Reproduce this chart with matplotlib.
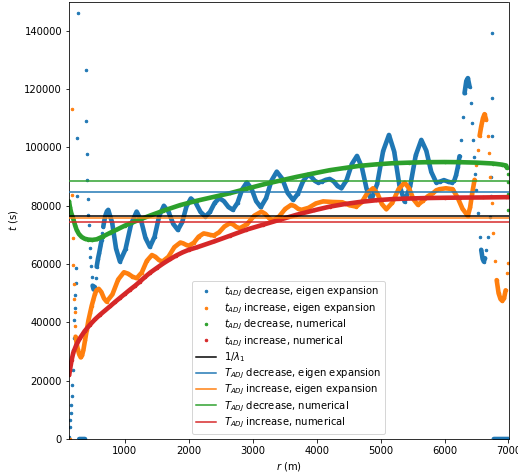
import numpy as np
import matplotlib
matplotlib.use("Agg")
import matplotlib.pyplot as plt

# ---- adjustment time t_ADJ(r) for each case ----
blue_r = [130, 137, 145, 152, 160, 167, 175, 182, 190, 197, 205, 212, 220, 227, 235, 250, 257, 265,
          285, 300, 315, 330, 345, 360, 375,
          390, 398, 406, 414, 422, 430, 438, 446, 454, 462, 478, 494, 510, 526, 542, 558, 578, 598, 617,
          636, 648, 661, 680, 698, 718, 739,
          800, 861, 922, 1009, 1096, 1183, 1252, 1322, 1391, 1464, 1536, 1609, 1682, 1755, 1828, 1896,
          1963, 2031, 2107, 2182, 2258, 2331, 2404, 2477, 2547, 2618, 2688, 2761, 2833, 2906, 2979, 3052,
          3125, 3208, 3292, 3375, 3460, 3545, 3630, 3708, 3786, 3864,
          3916, 3968, 4020, 4081, 4142, 4203, 4264, 4325, 4386, 4467, 4549, 4630, 4705, 4780, 4855, 4947,
          5038, 5130, 5212, 5293, 5375, 5462, 5549, 5636, 5714, 5792, 5870, 5930, 5990, 6050, 6109,
          6150, 6180, 6208, 6234, 6261, 6286, 6312, 6340, 6364, 6391, 6417, 6433, 6443, 6453, 6474, 6495,
          6520, 6547, 6573, 6595, 6614, 6633, 6651, 6677, 6703, 6719, 6730, 6735, 6740, 6745,
          6770, 6800, 6830, 6860, 6890, 6920, 6950, 6980, 7000]
blue_t = [800, 4200, 6500, 8800, 11700, 14800, 18500, 23700, 30500, 34600, 40800, 44900, 49400, 53400,
          58600, 83200, 103400, 146000,
          0, 0, 0, 0, 0, 0, 0,
          126700, 109000, 97700, 88900, 82250, 76900, 73400, 65500, 62600, 59400, 55600, 52600, 51300,
          52200, 55200, 59100, 61800, 63900, 66100, 68300, 70600, 72800, 75200, 76900, 78100, 78600,
          74200, 65300, 60850, 65100, 73700, 78000, 75000, 68900, 65900, 69400, 76500, 80000, 77900,
          73800, 71700, 74400, 79800, 82500, 81000, 77900, 76300, 77900, 81000, 82600, 81600, 79600,
          78600, 81000, 85600, 88000, 85900, 81600, 79500, 82600, 88600, 91700, 89300, 84400, 82000,
          84200, 88400, 90600,
          89900, 88600, 87950, 88300, 88900, 89200, 88400, 86800, 86000, 88800, 94300, 97100, 93300,
          85800, 82000, 87600, 98700, 104300, 98600, 87100, 81400, 86700, 97300, 102600, 98900, 91600,
          87950, 88300, 88800, 88300, 87950,
          88500, 90500, 93400, 97000, 102600, 110600, 118600, 122800, 123800, 120900, 115200, 108300,
          102600, 96900, 91000, 85400, 77400, 69400, 64900, 61800, 60850, 62000, 64900, 69400, 76300,
          83200, 90000, 104000, 116900, 139400,
          0, 0, 0, 0, 0, 0, 0, 0, 0]

orange_r = [140, 165, 173, 180, 188, 196, 204, 212, 220, 228, 245, 262, 285, 308, 330, 350, 375, 402,
            428, 453, 480, 505, 530, 555, 590, 631, 673, 714, 804, 894, 984, 1050, 1117, 1183, 1263,
            1342, 1422, 1477, 1531, 1586, 1680, 1773, 1867, 1911, 1956, 2000, 2077, 2153, 2230, 2283,
            2337, 2390, 2473, 2557, 2640, 2692, 2745, 2797, 2910, 3023, 3136, 3196, 3257, 3317, 3411,
            3506, 3600, 3653, 3707, 3760, 3873, 3987, 4100, 4250, 4400, 4510, 4620, 4707, 4793, 4880,
            4950, 5019, 5089, 5184, 5280, 5375, 5444, 5514, 5583, 5660, 5740, 5817, 5870, 5922, 6020,
            6125, 6200, 6280, 6364, 6400, 6430, 6469, 6495, 6520, 6548, 6573, 6600, 6625, 6650, 6677,
            6690, 6703, 6735, 6765, 6790, 6815, 6845, 6875, 6902, 6930, 6955, 6980, 6998]
orange_t = [0, 113250, 83600, 68900, 59600, 53000, 48000, 43700, 38600, 35100, 32800, 30800, 29000,
            28000, 28700, 30500, 33800, 37400, 40600, 43100, 45700, 47700, 49700, 51000, 51500, 50400,
            48200, 47100, 49600, 54700, 57200, 56700, 55700, 55150, 57100, 61100, 63100, 62500, 61400,
            60850, 62500, 65800, 67400, 67100, 66600, 66300, 67300, 69400, 70500, 70300, 70000, 69800,
            70900, 72900, 74000, 73600, 72700, 72300, 73700, 76600, 78000, 77200, 75700, 74900, 76300,
            78900, 80300, 79900, 79000, 78600, 79300, 80800, 81500, 81300, 81200, 80200, 79700, 81300,
            84400, 86000, 84200, 80600, 78800, 81100, 85700, 87950, 86000, 82200, 80300, 81700, 83300,
            84300, 85300, 85700, 86000, 85700, 83000, 79000, 76500, 79500, 84000, 88900, 94000, 99200,
            104000, 107200, 110000, 111430, 109500, 104000, 98000, 90000, 81000, 70500, 61000, 54500,
            50000, 48000, 47400, 48200, 51000, 57000, 60500]

green_r = [125, 140, 160, 192, 220, 245, 280, 323, 370, 427, 490, 557, 650, 766, 880, 1000, 1200, 1400,
           1600, 1860, 2120, 2400, 2640, 2900, 3161, 3420, 3683, 3950, 4203, 4450, 4672, 4930, 5188,
           5450, 5714, 6000, 6234, 6500, 6755, 6900, 6964, 6975, 6985, 6990, 6995, 7000]
green_t = [81500, 79500, 77500, 75500, 73300, 71700, 70300, 69300, 68700, 68400, 68300, 68500, 69400,
           70700, 71900, 73200, 75000, 76700, 78300, 80200, 81700, 83100, 84300, 85800, 87300, 88600,
           89900, 91100, 92200, 93000, 93700, 94200, 94600, 94800, 94950, 95000, 94950, 94800, 94500,
           94100, 93800, 93000, 91000, 88000, 84000, 78600]

red_r = [128, 141, 165, 192, 240, 297, 370, 453, 530, 609, 690, 766, 845, 922, 1000, 1078, 1160, 1234,
         1310, 1391, 1500, 1598, 1700, 1800, 1900, 2000, 2120, 2400, 2640, 2900, 3161, 3420, 3683,
         3950, 4203, 4440, 4672, 4930, 5193, 5450, 5714, 6000, 6234, 6600, 6964, 7000]
red_t = [22000, 23800, 27000, 29600, 32300, 34600, 37000, 39200, 41000, 42600, 44100, 45500, 47000,
         48400, 49800, 51200, 52600, 54000, 55500, 57000, 58700, 60200, 61600, 62900, 64000, 64900,
         65700, 67800, 69700, 71800, 73500, 75200, 76900, 78400, 79700, 80600, 81300, 81900, 82300,
         82500, 82650, 82750, 82800, 82850, 82950, 82950]

# ---- constant reference times ----
inv_lambda1 = 76600
T_dec_eigen = 84750
T_inc_eigen = 75650
T_dec_num = 88500
T_inc_num = 74400

point_labels = [r"$t_{ADJ}$ decrease, eigen expansion",
                r"$t_{ADJ}$ increase, eigen expansion",
                r"$t_{ADJ}$ decrease, numerical",
                r"$t_{ADJ}$ increase, numerical"]
line_labels = [r"$1/\lambda_1$",
               r"$T_{ADJ}$ decrease, eigen expansion",
               r"$T_{ADJ}$ increase, eigen expansion",
               r"$T_{ADJ}$ decrease, numerical",
               r"$T_{ADJ}$ increase, numerical"]


def dense_path(r, t, max_slope=150.0):
    """Join consecutive samples only where the curve is shallow enough
    for the sample dots to merge into a continuous band."""
    xs, ys = [r[0]], [t[0]]
    for i in range(1, len(r)):
        dr = max(r[i] - r[i - 1], 1e-9)
        if abs(t[i] - t[i - 1]) / dr > max_slope:
            xs.append(np.nan)
            ys.append(np.nan)
        xs.append(r[i])
        ys.append(t[i])
    return np.array(xs, float), np.array(ys, float)


fig = plt.figure(figsize=(518 / 72, 475 / 72), dpi=72)
ax = fig.add_axes([69 / 518, 1 - 439 / 475, (508.5 - 69) / 518, (439 - 1.7) / 475])

series = [(blue_r, blue_t, "C0"), (orange_r, orange_t, "C1"),
          (green_r, green_t, "C2"), (red_r, red_t, "C3")]
for (r, t, c), lab in zip(series, point_labels):
    ax.plot(r, t, ".", color=c, ms=5, label=lab, zorder=2)
    xs, ys = dense_path(r, t)
    ax.plot(xs, ys, "-", color=c, lw=4.6, solid_capstyle="round",
            solid_joinstyle="round", zorder=2)

for val, c, lab in zip([inv_lambda1, T_dec_eigen, T_inc_eigen, T_dec_num, T_inc_num],
                       ["k", "C0", "C1", "C2", "C3"], line_labels):
    ax.axhline(val, color=c, lw=1.5, label=lab, zorder=3)

ax.set_xlim(125, 7000)
ax.set_ylim(0, 150000)
ax.set_xticks([1000, 2000, 3000, 4000, 5000, 6000, 7000])
ax.set_yticks(np.arange(0, 140001, 20000))
ax.set_xlabel(r"$r$ (m)")
ax.set_ylabel(r"$t$ (s)")
ax.legend(loc="lower center", labelspacing=0.2)

fig.savefig("out.png", dpi=72)
